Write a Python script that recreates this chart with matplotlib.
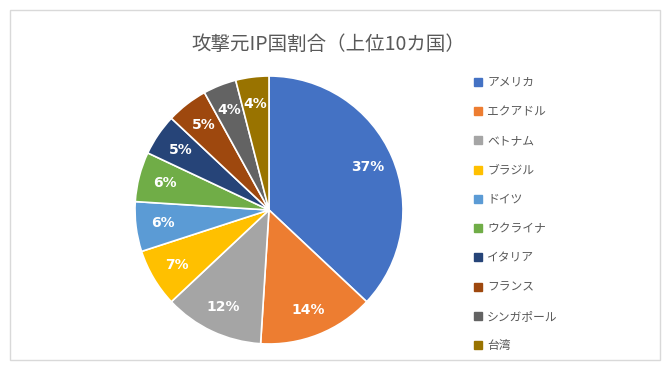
import matplotlib
matplotlib.use("Agg")
import matplotlib.pyplot as plt
from matplotlib.patches import Rectangle
from matplotlib.lines import Line2D

plt.rcParams['font.family'] = ['Noto Sans CJK JP', 'DejaVu Sans']

title = "攻撃元IP国割合（上位10カ国）"
countries = ["アメリカ", "エクアドル", "ベトナム", "ブラジル", "ドイツ",
             "ウクライナ", "イタリア", "フランス", "シンガポール", "台湾"]
shares = [37, 14, 12, 7, 6, 6, 5, 5, 4, 4]
colors = ["#4472C4", "#ED7D31", "#A5A5A5", "#FFC000", "#5B9BD5",
          "#70AD47", "#264478", "#9E480E", "#636363", "#997300"]

fig = plt.figure(figsize=(6.7, 3.7), dpi=100)
fig.patches.append(Rectangle((10/670, 10/370), 650/670, 350/370, transform=fig.transFigure,
                             fill=False, edgecolor="#D9D9D9", linewidth=1.0))

ax = fig.add_axes([0.2015, 0.0703, 0.4, 0.7243])
wedges, texts, autotexts = ax.pie(
    shares, colors=colors, startangle=90, counterclock=False,
    autopct=lambda p: f"{p:.0f}%", pctdistance=0.8,
    wedgeprops=dict(edgecolor="white", linewidth=1.2),
    textprops=dict(color="white", fontsize=10, fontweight="bold", family="DejaVu Sans"))
ax.set_xlim(-1.0, 1.0)
ax.set_ylim(-1.0, 1.0)
ax.set_aspect("equal")

fig.text(0.49, 0.88, title, ha="center", va="center", fontsize=14, color="#595959")

handles = [Line2D([], [], marker="s", linestyle="none", markersize=5.5,
                  markerfacecolor=c, markeredgecolor=c) for c in colors]
fig.legend(handles, countries, loc="upper left", bbox_to_anchor=(0.697, 0.808),
           frameon=False, fontsize=8.5, labelcolor="#595959",
           handletextpad=0.3, labelspacing=1.38, handlelength=1.0, borderaxespad=0)

fig.savefig("out.png", dpi=100)
